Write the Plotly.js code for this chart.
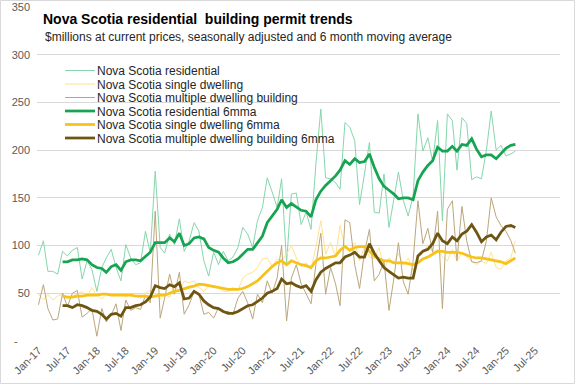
<!DOCTYPE html>
<html>
<head>
<meta charset="utf-8">
<script src="https://cdn.plot.ly/plotly-3.0.1.min.js"></script>
<style>
  html, body { margin: 0; padding: 0; background: #ffffff; }
  #chart { width: 577px; height: 385px; }
</style>
</head>
<body>
<div id="chart"></div>
<script>
// Series (monthly, Jan-2017 to Mar-2025), $ millions
const startYear = 2017;
const startMonth = 1;

const residential = [90,105,73,73,70,94,89,95,98,65,84,75,52,77,87,96,77,63,101,87,
  80,82,115,92,178,98,92,112,101,128,94,105,124,115,84,68,93,80,94,84,
  88,98,119,112,98,126,140,171,156,140,170,82,154,155,122,135,117,185,243,171,
  170,166,159,229,224,210,143,178,208,135,134,175,119,149,177,147,131,152,238,199,
  213,188,231,126,238,231,179,234,228,169,172,170,200,241,200,205,194,196,199];

const singleDwelling = [49,43,49,43,47,49,44,47,49,52,47,56,48,44,49,49,48,50,46,49,
  47,45,50,53,49,44,49,46,59,52,63,61,63,56,52,58,56,57,52,52,
  56,53,66,70,72,77,86,87,78,86,84,91,100,87,78,82,75,98,126,91,
  103,88,121,98,96,103,84,99,88,86,98,75,87,82,92,79,87,73,88,93,
  100,93,96,88,84,96,84,93,88,84,80,84,81,93,77,75,84,87,105];

const multipleDwelling = [38,59,34,22,23,50,36,50,53,25,29,34,5,34,20,27,39,11,43,32,
  35,33,48,40,136,24,45,70,49,72,28,38,52,49,28,30,24,35,30,31,
  28,45,52,40,23,49,40,63,50,66,100,21,66,80,60,49,39,80,113,49,
  77,60,37,127,124,80,55,93,117,63,70,84,32,66,103,62,49,84,147,102,
  118,93,136,34,138,147,84,141,105,83,82,84,105,150,130,121,115,105,92];

const residential6mma = [null,null,null,null,null,83,83,85,85,86,85,80,77,76,72,78,80,74,83,85,
  85,84,89,93,103,103,103,108,104,113,100,102,108,109,107,98,95,93,87,82,
  83,86,91,96,96,103,110,124,131,138,148,140,144,140,137,136,130,148,157,163,
  168,173,179,189,185,191,187,188,196,182,170,162,158,154,149,150,150,148,168,177,
  184,189,203,199,199,204,199,206,205,212,201,193,195,195,191,197,202,205,206];

const single6mma = [null,null,null,null,null,47,46,46,47,47,48,48,48,49,49,48,48,48,48,48,
  47,47,47,46,47,48,48,50,52,53,55,56.5,57.5,59.5,59,58,57,56,55,54,
  54,54,55,57,60,63,68,73,78,82,84,80,84,82,80,79,77,84,87,87,
  88,89,95,99,95,98,99,99,94,89,86,84,84,82,82,82,81,80,82,86,
  88,91,94,94,93,93,93,92,90,88,87,87,86,85,84,83,81,84,87];

const multiple6mma = [null,null,null,null,null,37,37,35,38,37,35,32,31,28,23,28,29,26,35,35,
  37,38,41,46,58,56,55,59,57,61,44,45,52,49,42,38,35,34,31,29,
  29,31,34,37,38,41,45,50,52,55,65,60,61,58,56,58,52,64,72,76,
  79,82,82,88,90,93,88,88,102,92,84,77,73,69,66,67,66,66,89,94,
  96,102,113,105,102,109,105,112,115,122,114,104,109,111,106,114,120,121,119];

const seriesNames = [
  'Nova Scotia residential',
  'Nova Scotia single dwelling',
  'Nova Scotia multiple dwelling building',
  'Nova Scotia residential 6mma',
  'Nova Scotia single dwelling 6mma',
  'Nova Scotia multiple dwelling building 6mma'
];

const xTickVals = ['2017-01-01','2017-07-01','2018-01-01','2018-07-01','2019-01-01','2019-07-01',
  '2020-01-01','2020-07-01','2021-01-01','2021-07-01','2022-01-01','2022-07-01',
  '2023-01-01','2023-07-01','2024-01-01','2024-07-01','2025-01-01','2025-07-01'];
const xTickText = ['Jan-17','Jul-17','Jan-18','Jul-18','Jan-19','Jul-19','Jan-20','Jul-20',
  'Jan-21','Jul-21','Jan-22','Jul-22','Jan-23','Jul-23','Jan-24','Jul-24','Jan-25','Jul-25'];

const yTickVals = [0,50,100,150,200,250,300,350];
const yTickText = ['-\u00a0\u00a0\u00a0\u00a0','50','100','150','200','250','300','350'];

// month categories
const months = residential.map((_, i) => {
  const m = startMonth - 1 + i;
  const y = startYear + Math.floor(m / 12);
  const mm = (m % 12) + 1;
  return y + '-' + (mm < 10 ? '0' + mm : mm) + '-01';
});

const FONT = '"Liberation Sans Narrow", "Arial Narrow", "Liberation Sans", Arial, sans-serif';

const styles = [
  {color: '#86d6ab', width: 1},
  {color: '#ffe38f', width: 1},
  {color: '#bba67c', width: 1},
  {color: '#17a452', width: 2.75},
  {color: '#f7c21a', width: 2.75},
  {color: '#6e5612', width: 2.75}
];
const data = [residential, singleDwelling, multipleDwelling, residential6mma, single6mma, multiple6mma];

const traces = data.map((vals, k) => ({
  type: 'scatter',
  mode: 'lines',
  x: months,
  y: vals,
  name: seriesNames[k],
  line: {color: styles[k].color, width: styles[k].width},
  connectgaps: false,
  hoverinfo: 'skip'
}));

const W = 577, H = 385;
const mL = 37, mR = 17, mT = 7, mB = 44;
const pw = W - mL - mR, ph = H - mT - mB;

const layout = {
  width: W, height: H,
  margin: {l: mL, r: mR, t: mT, b: mB, pad: 0},
  paper_bgcolor: '#ffffff',
  plot_bgcolor: '#ffffff',
  font: {family: FONT, size: 11, color: '#595959'},
  title: {
    text: '<b>Nova Scotia residential  building permit trends</b>',
    font: {family: FONT, size: 14, color: '#000000'},
    x: 43 / W, xanchor: 'left', xref: 'container',
    y: 1 - 19 / H, yanchor: 'middle', yref: 'container'
  },
  annotations: [{
    text: '$millions at current prices, seasonally adjusted and 6 month moving average',
    xref: 'paper', yref: 'paper',
    x: (43 - mL) / pw, xanchor: 'left',
    y: (H - mB - 37) / ph, yanchor: 'middle',
    showarrow: false,
    font: {family: FONT, size: 12, color: '#262626'}
  }],
  xaxis: {
    type: 'date',
    range: ['2016-12-23', '2025-12-05'],
    tickmode: 'array',
    tickvals: xTickVals,
    ticktext: xTickText,
    tickangle: -45,
    showgrid: false,
    zeroline: false,
    showline: false,
    ticks: '',
    tickfont: {family: FONT, size: 11, color: '#595959'},
    automargin: false
  },
  yaxis: {
    range: [0, 350],
    tickmode: 'array',
    tickvals: yTickVals,
    ticktext: yTickText,
    showgrid: true,
    gridcolor: '#d9d9d9',
    gridwidth: 1,
    zeroline: false,
    showline: false,
    ticks: '',
    ticklabelstandoff: 6,
    tickfont: {family: FONT, size: 11, color: '#595959'},
    automargin: false
  },
  showlegend: true,
  legend: {
    x: 23 / pw, xanchor: 'left',
    y: (H - mB - 56) / ph, yanchor: 'top',
    bgcolor: 'rgba(0,0,0,0)',
    borderwidth: 0,
    font: {family: FONT, size: 12, color: '#262626'},
    itemwidth: 30,
    traceorder: 'normal'
  },
  shapes: [{
    type: 'rect', xref: 'paper', yref: 'paper',
    x0: (0.5 - mL) / pw, x1: (574.5 - mL) / pw,
    y0: (H - mB - 383.5) / ph, y1: (H - mB - 0.5) / ph,
    line: {color: '#d9d9d9', width: 1},
    fillcolor: 'rgba(0,0,0,0)',
    layer: 'below'
  }]
};

Plotly.newPlot('chart', traces, layout, {displayModeBar: false, staticPlot: true}).then(gd => {
  // tighten legend row spacing and symbol/text gap to match the reference
  const items = gd.querySelectorAll('.legend .traces');
  if (!items.length) return;
  const m = /translate\(\s*([-\d.]+)[ ,]+([-\d.]+)\s*\)/.exec(items[0].getAttribute('transform') || '');
  if (!m) return;
  const x0 = parseFloat(m[1]), y0 = parseFloat(m[2]);
  items.forEach((el, k) => {
    el.setAttribute('transform', 'translate(' + x0 + ',' + (y0 + k * 13.5) + ')');
    const t = el.querySelector('.legendtext');
    if (t) {
      const tx = parseFloat(t.getAttribute('x') || '40');
      t.setAttribute('x', String(tx - 3));
    }
  });
});
</script>
</body>
</html>
